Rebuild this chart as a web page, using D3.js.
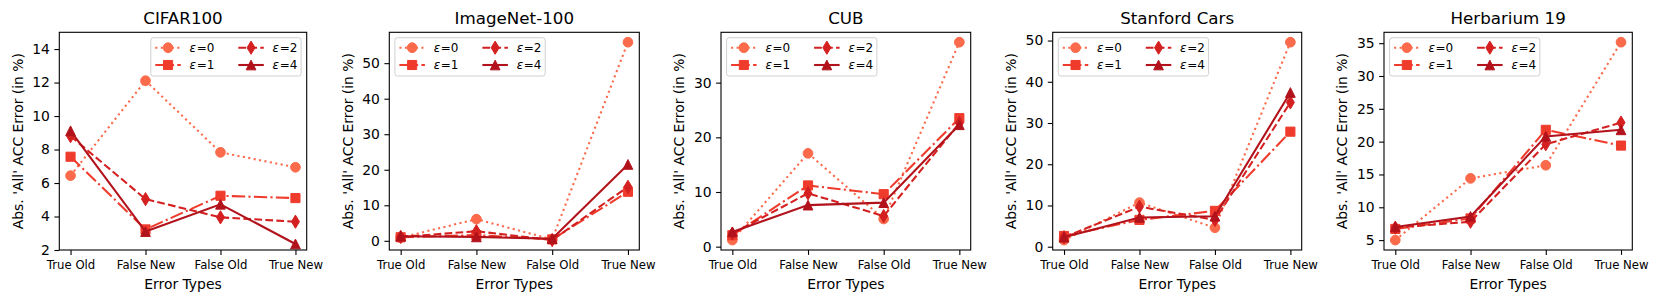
<!DOCTYPE html>
<html><head><meta charset="utf-8">
<script src="https://cdn.jsdelivr.net/npm/d3@7"></script>
<style>
html,body{margin:0;padding:0;background:#fff;}
text{font-family:"DejaVu Sans",sans-serif;fill:#000;}
</style></head>
<body><svg id="chart" width="1660" height="302"></svg>
<script>
// ---------------- data ----------------
const categories = ["True Old", "False New", "False Old", "True New"];
const datasets = ["CIFAR100", "ImageNet-100", "CUB", "Stanford Cars", "Herbarium 19"];
const seriesLabels = ["0", "1", "2", "4"];   // epsilon values
// one row per dataset, one value per category
const eps0 = [
  [6.44, 12.11, 7.83, 6.94],
  [0.9, 6.1, 0.4, 55.9],
  [1.2, 17.07, 5.06, 37.4],
  [1.6, 10.7, 4.6, 49.6],
  [5.0, 14.4, 16.4, 35.15]
];
const eps1 = [
  [7.57, 3.23, 5.24, 5.10],
  [1.0, 1.6, 0.4, 13.8],
  [2.1, 11.2, 9.6, 23.5],
  [2.6, 6.5, 8.7, 27.9],
  [6.7, 8.3, 21.8, 19.4]
];
const eps2 = [
  [8.80, 5.04, 3.95, 3.69],
  [1.1, 2.7, 0.2, 15.2],
  [2.4, 9.76, 5.6, 22.6],
  [2.3, 9.7, 6.5, 35.0],
  [6.9, 7.8, 19.6, 22.9]
];
const eps4 = [
  [9.12, 3.10, 4.73, 2.36],
  [1.3, 1.1, 0.6, 21.5],
  [2.7, 7.6, 8.05, 22.3],
  [2.3, 7.1, 7.4, 37.4],
  [7.0, 8.6, 20.8, 21.8]
];
const yTicks = [
  [2, 4, 6, 8, 10, 12, 14],
  [0, 10, 20, 30, 40, 50],
  [0, 10, 20, 30],
  [0, 10, 20, 30, 40, 50],
  [5, 10, 15, 20, 25, 30, 35]
];
const fixedYLim = [[2, 15], null, null, null, null];

// ---------------- style / layout ----------------
const seriesData = [eps0, eps1, eps2, eps4];
const colors = ["#fb6a4a", "#ef3b2c", "#d42020", "#b2121b"];
const dashes = ["2.1,3.4", "13.3,3.3,2.1,3.3", "7.7,3.3", null];
const markers = ["circle", "square", "thindiamond", "triangle"];
const panelLeft = [59.3, 389.3, 721, 1052.7, 1384];
const panelRight = [306.7, 639.3, 970.7, 1301.7, 1632.3];
const legendRight = [true, false, false, false, false];
const axTop = 32.3, axBottom = 250;

const svg = d3.select("#chart");

function markerPath(type) {
  const ms = 9.7;
  if (type === "circle") return d3.symbol(d3.symbolCircle, Math.PI * (ms / 2) * (ms / 2))();
  if (type === "square") { const h = ms * 0.47; return `M${-h},${-h}H${h}V${h}H${-h}Z`; }
  if (type === "thindiamond") { const hh = 6.6, hw = 4.0; return `M0,${-hh}L${hw},0L0,${hh}L${-hw},0Z`; }
  if (type === "triangle") { const h = ms / 2; return `M0,${-h}L${h},${h}L${-h},${h}Z`; }
}

datasets.forEach((name, p) => {
  const L = panelLeft[p], R = panelRight[p];
  const x = d3.scalePoint().domain(categories).range([L, R]).padding(0.15);
  let dom = fixedYLim[p];
  if (!dom) {
    const all = seriesData.flatMap(s => s[p]);
    const mn = d3.min(all), mx = d3.max(all), m = (mx - mn) * 0.05;
    dom = [mn - m, mx + m];
  }
  const y = d3.scaleLinear().domain(dom).range([axBottom, axTop]);
  const g = svg.append("g");

  // series
  const plot = g.append("g");
  seriesData.forEach((s, i) => {
    const vals = s[p];
    const line = d3.line().x((d, k) => x(categories[k])).y(d => y(d));
    plot.append("path").datum(vals).attr("d", line)
      .attr("fill", "none").attr("stroke", colors[i]).attr("stroke-width", 2.08)
      .attr("stroke-dasharray", dashes[i]);
    plot.selectAll(null).data(vals).enter().append("path")
      .attr("d", markerPath(markers[i]))
      .attr("transform", (d, k) => `translate(${x(categories[k])},${y(d)})`)
      .attr("fill", colors[i]).attr("stroke", colors[i]).attr("stroke-width", 1);
  });

  // frame
  g.append("rect").attr("x", L).attr("y", axTop).attr("width", R - L).attr("height", axBottom - axTop)
    .attr("fill", "none").attr("stroke", "#000").attr("stroke-width", 1.1);

  // axes
  const xa = g.append("g").attr("transform", `translate(0,${axBottom})`)
    .call(d3.axisBottom(x).tickSize(4.9).tickPadding(6));
  xa.select(".domain").remove();
  xa.selectAll("line").attr("stroke", "#000").attr("stroke-width", 1.1);
  xa.selectAll("text").attr("font-size", "11.7px").attr("font-family", "DejaVu Sans").attr("fill", "#000");

  const ya = g.append("g").attr("transform", `translate(${L},0)`)
    .call(d3.axisLeft(y).tickValues(yTicks[p]).tickFormat(d3.format("d")).tickSize(4.9).tickPadding(4.5));
  ya.select(".domain").remove();
  ya.selectAll("line").attr("stroke", "#000").attr("stroke-width", 1.1);
  ya.selectAll("text").attr("font-size", "13.9px").attr("font-family", "DejaVu Sans").attr("fill", "#000");

  // labels
  const cx = (L + R) / 2;
  g.append("text").attr("x", cx).attr("y", 24).attr("text-anchor", "middle")
    .attr("font-size", "16.7px").text(name);
  g.append("text").attr("x", cx).attr("y", 288.5).attr("text-anchor", "middle")
    .attr("font-size", "13.9px").text("Error Types");
  g.append("text").attr("transform", `translate(${L - 36.8},${(axTop + axBottom) / 2}) rotate(-90)`)
    .attr("text-anchor", "middle").attr("font-size", "13.9px").text("Abs. 'All' ACC Error (in %)");

  // legend
  const lw = 150.3, lh = 38.3;
  const lx = legendRight[p] ? R - 5.6 - lw : L + 5.6;
  const ly = axTop + 5.4;
  const lg = g.append("g").attr("transform", `translate(${lx},${ly})`);
  lg.append("rect").attr("x", 0).attr("y", 0).attr("width", lw).attr("height", lh)
    .attr("rx", 2.5).attr("fill", "#fff").attr("fill-opacity", 0.8)
    .attr("stroke", "#d0d0d0").attr("stroke-width", 1);
  seriesLabels.forEach((lab, i) => {
    const col = i < 2 ? 0 : 1, row = i % 2;
    const hx0 = col === 0 ? 4.5 : 87.5, hx1 = hx0 + 25.5;
    const ry = row === 0 ? 10 : 27.3;
    lg.append("line").attr("x1", hx0).attr("x2", hx1).attr("y1", ry).attr("y2", ry)
      .attr("stroke", colors[i]).attr("stroke-width", 2.08).attr("stroke-dasharray", dashes[i]);
    lg.append("path").attr("d", markerPath(markers[i]))
      .attr("transform", `translate(${(hx0 + hx1) / 2},${ry})`)
      .attr("fill", colors[i]).attr("stroke", colors[i]).attr("stroke-width", 1);
    const t = lg.append("text").attr("x", hx1 + 8.8).attr("y", ry + 4.4).attr("font-size", "12px");
    t.append("tspan").attr("font-style", "italic").text("ε");
    t.append("tspan").attr("dx", 0.6).text("=" + lab);
  });
});
</script>
</body></html>
